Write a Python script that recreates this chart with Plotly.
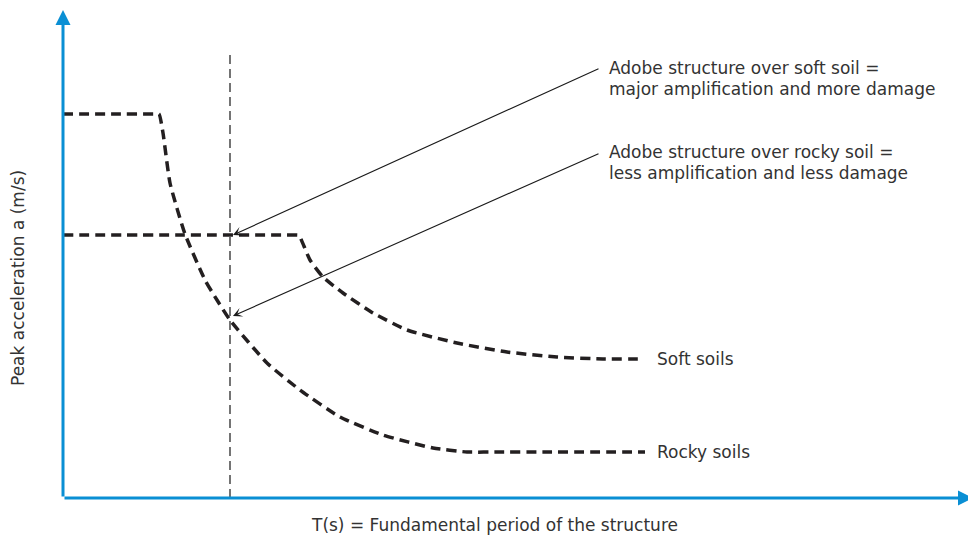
import plotly.graph_objects as go

# Data (T in arbitrary period units, a in arbitrary acceleration units)
rocky_T = [0.00, 0.50, 0.92, 0.96, 1.00, 1.07, 1.22, 1.42, 1.54, 1.67, 2.04, 2.37, 2.77, 3.20, 3.70, 4.04, 4.37, 4.80, 5.82]
rocky_a = [3.84, 3.84, 3.84, 3.84, 3.65, 3.15, 2.64, 2.18, 1.98, 1.78, 1.35, 1.08, 0.81, 0.63, 0.50, 0.46, 0.46, 0.46, 0.46]

soft_T = [0.00, 1.20, 2.30, 2.35, 2.37, 2.47, 2.60, 2.80, 3.10, 3.44, 3.94, 4.44, 4.94, 5.40, 5.80]
soft_a = [2.63, 2.63, 2.63, 2.63, 2.61, 2.38, 2.21, 2.05, 1.85, 1.68, 1.55, 1.46, 1.41, 1.39, 1.39]

t_structure = 1.67
t_line_top = 4.43

curve_labels = ["Soft soils", "Rocky soils"]
note_soft = ["Adobe structure over soft soil =", "major amplification and more damage"]
note_rocky = ["Adobe structure over rocky soil =", "less amplification and less damage"]
x_title = "T(s) = Fundamental period of the structure"
y_title = "Peak acceleration a (m/s)"

AXIS_BLUE = "#0a8fd4"
CURVE = "#231f20"
TEXT = "#333333"
FONT = "DejaVu Sans, Verdana, sans-serif"
FS = 17

fig = go.Figure()

fig.add_trace(go.Scatter(x=rocky_T, y=rocky_a, mode="lines",
                         line=dict(color=CURVE, width=3.5, dash="10px,6px",
                                   shape="spline", smoothing=0.5),
                         hoverinfo="skip", showlegend=False))
fig.add_trace(go.Scatter(x=soft_T, y=soft_a, mode="lines",
                         line=dict(color=CURVE, width=3.5, dash="10px,6px",
                                   shape="spline", smoothing=0.5),
                         hoverinfo="skip", showlegend=False))
# vertical reference line (structure period)
fig.add_trace(go.Scatter(x=[t_structure, t_structure], y=[0, t_line_top], mode="lines",
                         line=dict(color="#2a2a2a", width=1.3, dash="9px,5px"),
                         hoverinfo="skip", showlegend=False))

ann = []
# axes as arrows
ann.append(dict(x=9.10, y=0, ax=0, ay=0, xref="x", yref="y", axref="x", ayref="y",
                showarrow=True, arrowhead=2, arrowwidth=3, arrowsize=1,
                arrowcolor=AXIS_BLUE, text=""))
ann.append(dict(x=0, y=4.88, ax=0, ay=0, xref="x", yref="y", axref="x", ayref="y",
                showarrow=True, arrowhead=2, arrowwidth=3, arrowsize=1,
                arrowcolor=AXIS_BLUE, text=""))
# pointer arrows
ann.append(dict(x=1.70, y=2.63, ax=5.37, ay=4.30, xref="x", yref="y", axref="x", ayref="y",
                showarrow=True, arrowhead=3, arrowwidth=1.1, arrowsize=1.4,
                arrowcolor="#1a1a1a", text="", standoff=0))
ann.append(dict(x=1.70, y=1.82, ax=5.37, ay=3.45, xref="x", yref="y", axref="x", ayref="y",
                showarrow=True, arrowhead=3, arrowwidth=1.1, arrowsize=1.4,
                arrowcolor="#1a1a1a", text="", standoff=0))

def label(text, x, y, **kw):
    d = dict(x=x, y=y, xref="x", yref="y", text=text, showarrow=False,
             xanchor="left", yanchor="middle",
             font=dict(family=FONT, size=FS, color=TEXT))
    d.update(kw)
    return d

ann.append(label(note_soft[0], 5.44, 4.30))
ann.append(label(note_soft[1], 5.44, 4.09))
ann.append(label(note_rocky[0], 5.44, 3.46))
ann.append(label(note_rocky[1], 5.44, 3.25))
ann.append(label(curve_labels[0], 5.92, soft_a[-1]))
ann.append(label(curve_labels[1], 5.92, rocky_a[-1]))
ann.append(label(x_title, 4.31, -0.27, xanchor="center"))
ann.append(label(y_title, -0.45, 2.20, xanchor="center", textangle=-90))

# page has an 8px body margin: figure 968x528 placed at (8,8)
fig.update_layout(
    width=968, height=528,
    margin=dict(l=0, r=0, t=0, b=0),
    paper_bgcolor="white", plot_bgcolor="white",
    xaxis=dict(range=[-0.55, 9.13], visible=False, fixedrange=True),
    yaxis=dict(range=[-0.38, 4.90], visible=False, fixedrange=True),
    annotations=ann,
    showlegend=False,
)

fig.write_html("out.html")
